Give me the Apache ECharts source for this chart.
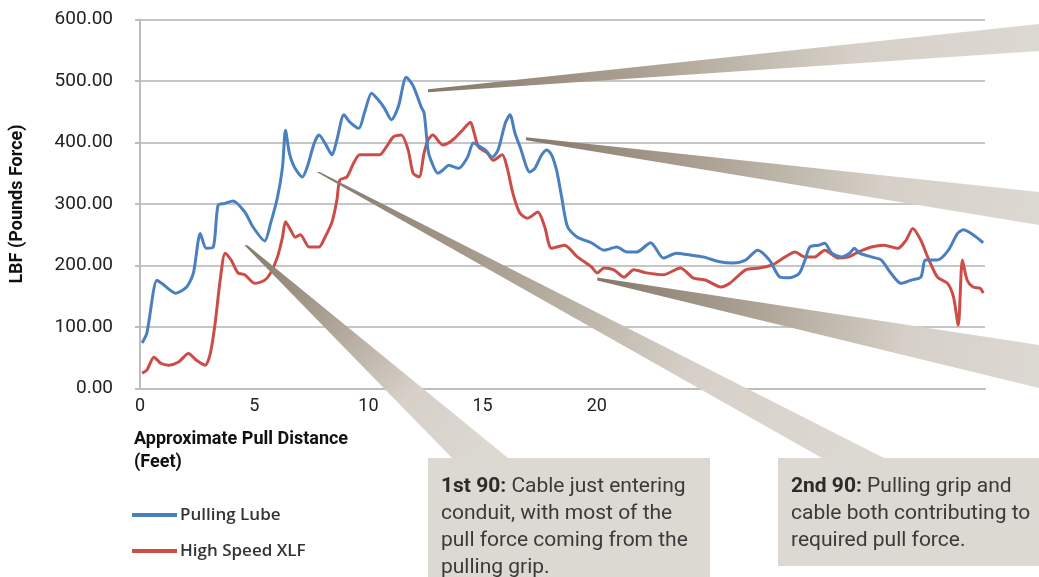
<!DOCTYPE html>
<html>
<head>
<meta charset="utf-8">
<script src="https://cdn.jsdelivr.net/npm/echarts@6/dist/echarts.min.js"></script>
<style>
  html, body { margin: 0; padding: 0; background: #fff; }
  #main { width: 1039px; height: 577px; }
</style>
</head>
<body>
<div id="main"></div>
<script>
// distance (feet) / force (lbf)
const lubeDist = [0.09, 0.30, 0.74, 0.95, 1.56, 2.04, 2.34, 2.64, 2.90, 3.21, 3.42, 3.73, 4.07, 4.59, 4.94,
  5.46, 5.72, 6.02, 6.24, 6.37, 6.54, 6.76, 7.11, 7.32, 7.63, 7.84, 8.10, 8.41, 8.62, 8.93, 9.19, 9.58, 9.84,
  10.14, 10.44, 10.70, 11.01, 11.31, 11.66, 11.96, 12.31, 12.44, 12.61, 12.74, 13.04, 13.26, 13.52, 13.95,
  14.34, 14.60, 14.90, 15.12, 15.42, 15.68, 15.99, 16.20, 16.42, 16.64, 17.07, 17.29, 17.59, 17.81, 18.02,
  18.24, 18.46, 18.72, 19.15, 19.76, 20.32, 20.88, 21.32, 21.75, 22.36, 22.92, 23.48, 24.09, 24.65, 25.39,
  25.95, 26.52, 27.04, 27.56, 28.03, 28.42, 28.86, 29.12, 29.33, 29.72, 29.98, 30.29, 30.72, 31.07, 31.28,
  31.50, 32.02, 32.45, 32.89, 33.32, 33.75, 34.19, 34.40, 34.92, 35.40, 35.79, 36.05, 36.48, 36.92];
const lubeForce = [74, 90, 176, 171, 155, 165, 188, 252, 228, 230, 298, 301, 305, 287, 263,
  240, 269, 311, 360, 420, 383, 360, 344, 360, 399, 412, 399, 380, 404, 445, 433, 423, 450,
  480, 469, 456, 437, 458, 506, 492, 458, 448, 388, 371, 350, 355, 363, 358,
  376, 399, 393, 388, 376, 388, 431, 445, 415, 393, 352, 358, 380, 388, 380,
  355, 312, 263, 246, 237, 225, 230, 222, 222, 237, 212, 220, 217, 214, 206,
  204, 209, 225, 209, 181, 180, 187, 209, 230, 233, 236, 220, 214, 220, 228,
  220, 214, 209, 187, 171, 176, 181, 209, 209, 225, 252, 258, 250, 237];

const xlfDist = [0.09, 0.30, 0.61, 0.91, 1.26, 1.69, 2.12, 2.47, 2.86, 3.08, 3.29, 3.51, 3.73, 3.99, 4.29,
  4.59, 5.03, 5.46, 5.72, 6.02, 6.24, 6.37, 6.59, 6.80, 7.02, 7.41, 7.84, 8.10, 8.41, 8.62, 8.75, 9.06, 9.36,
  9.62, 10.05, 10.49, 10.79, 11.09, 11.44, 11.74, 11.96, 12.22, 12.44, 12.61, 12.82, 13.26, 13.69, 14.12,
  14.47, 14.60, 14.82, 15.21, 15.47, 15.86, 16.07, 16.33, 16.64, 16.98, 17.42, 17.72, 18.02, 18.59, 19.15,
  19.76, 20.02, 20.32, 20.75, 21.19, 21.62, 22.18, 22.92, 23.66, 24.22, 24.78, 25.43, 25.82, 26.52, 27.12,
  27.69, 28.25, 28.68, 29.12, 29.55, 29.98, 30.59, 31.02, 31.46, 32.02, 32.58, 33.19, 33.54, 33.84, 34.19,
  34.49, 34.92, 35.36, 35.62, 35.83, 36.01, 36.22, 36.48, 36.79, 36.92];
const xlfForce = [25, 30, 51, 41, 38, 43, 57, 46, 38, 57, 106, 176, 220, 209, 188,
  185, 171, 176, 188, 214, 246, 271, 258, 246, 250, 230, 230, 246, 271, 306, 339, 344, 367,
  380, 380, 380, 393, 409, 412, 388, 350, 344, 383, 404, 412, 396, 404, 420,
  433, 420, 393, 383, 371, 380, 360, 317, 285, 277, 287, 263, 228, 233, 214,
  198, 188, 196, 193, 181, 193, 188, 185, 196, 180, 176, 165, 171, 193, 196,
  201, 214, 222, 214, 214, 225, 212, 214, 222, 230, 233, 228, 241, 260, 241,
  214, 181, 171, 149, 103, 209, 176, 165, 163, 155];

const seriesNames = ['Pulling Lube', 'High Speed XLF'];
const yTicks = [0, 100, 200, 300, 400, 500, 600];
const xLabelMax = 20;

// callouts: tip in data coords, wide end in page pixels
const callouts = [
  { tip: [4.64, 233], base: [[452, 458], [508, 458]] },
  { tip: [7.80, 352], base: [[822, 458], [884, 458]] },
  { tip: [12.61, 484], base: [[1039, 24], [1039, 51]] },
  { tip: [16.90, 406], base: [[1039, 192], [1039, 225]] },
  { tip: [20.02, 178], base: [[1039, 345], [1039, 388]] }
];

const toPairs = (xs, ys) => xs.map((x, i) => [x, ys[i]]);

const chart = echarts.init(document.getElementById('main'));
const axisGray = '#bdbdbd';
const labelFont = 'Roboto, "DejaVu Sans", sans-serif';

chart.setOption({
  animation: false,
  color: ['#4a7fc0', '#cc4d47'],
  grid: { left: 131, right: 54, top: 19.5, bottom: 188.5 },
  xAxis: {
    type: 'value', min: 0, max: 37, interval: 5,
    axisLine: { lineStyle: { color: axisGray, width: 2 } },
    axisTick: { show: false },
    splitLine: { show: false },
    axisLabel: {
      showMaxLabel: false,
      formatter: (v) => (v <= xLabelMax ? String(v) : ''),
      fontSize: 18, color: '#222', fontFamily: labelFont, margin: 9
    }
  },
  yAxis: {
    type: 'value', min: yTicks[0], max: yTicks[yTicks.length - 1], interval: 100,
    name: 'LBF (Pounds Force)', nameLocation: 'middle', nameGap: 114,
    nameTextStyle: { fontWeight: 'bold', fontSize: 18, fontFamily: labelFont, color: '#111' },
    axisLine: { show: true, lineStyle: { color: axisGray, width: 2 } },
    axisTick: { show: true, length: 5, lineStyle: { color: axisGray, width: 2 } },
    splitLine: { lineStyle: { color: '#c6c6c6', width: 2 } },
    axisLabel: {
      formatter: (v) => v.toFixed(2),
      fontSize: 19, color: '#222', fontFamily: labelFont, margin: 27
    }
  },
  legend: {
    orient: 'vertical', left: 132, top: 505, itemGap: 16, padding: 0,
    itemWidth: 45, itemHeight: 4, icon: 'rect',
    textStyle: { fontSize: 17, fontWeight: 600, fontFamily: '"Open Sans", sans-serif', color: '#333', lineHeight: 20, padding: [0, 0, 0, -2] },
    data: seriesNames
  },
  series: [
    {
      name: seriesNames[0], type: 'line', data: toPairs(lubeDist, lubeForce),
      showSymbol: false, smooth: 0.25, lineStyle: { width: 3 }, z: 3
    },
    {
      name: seriesNames[1], type: 'line', data: toPairs(xlfDist, xlfForce),
      showSymbol: false, smooth: 0.25, lineStyle: { width: 3 }, z: 2
    }
  ]
});

// callout wedges + boxes, tips placed through the chart's own scales
const boxFill = '#dcd8d2';
const textFont = 'Roboto, "DejaVu Sans", sans-serif';
const rich = {
  b: { fontWeight: 'bold', fontSize: 21, fontFamily: textFont, fill: '#2b2b2b', lineHeight: 27 },
  n: { fontSize: 21, fontFamily: textFont, fill: '#3a3a3a', lineHeight: 27 }
};

const wedges = callouts.map((c) => {
  const [tx, ty] = chart.convertToPixel({ gridIndex: 0 }, c.tip);
  const [b1, b2] = c.base;
  const horizontal = b1[0] === b2[0];
  const tipPts = horizontal ? [[tx, ty + 1.5], [tx, ty - 1.5]] : [[tx + 1.5, ty], [tx - 1.5, ty]];
  const bx = (b1[0] + b2[0]) / 2;
  const by = (b1[1] + b2[1]) / 2;
  return {
    type: 'polygon', z: 100, silent: true,
    shape: { points: [tipPts[1], b1, b2, tipPts[0]] },
    style: {
      fill: new echarts.graphic.LinearGradient(tx, ty, bx, by, [
        { offset: 0, color: '#85796a' },
        { offset: 0.35, color: '#aca293' },
        { offset: 0.7, color: '#d6d0c8' },
        { offset: 1, color: boxFill }
      ], true)
    }
  };
});

chart.setOption({
  graphic: wedges.concat([
    {
      type: 'text', left: 134, top: 428, z: 100,
      style: {
        text: 'Approximate Pull Distance\n(Feet)',
        font: 'bold 18px ' + labelFont, fill: '#111', lineHeight: 23
      }
    },
    { type: 'rect', z: 100, shape: { x: 428, y: 458, width: 282, height: 119 }, style: { fill: boxFill } },
    {
      type: 'text', left: 441, top: 476, z: 101,
      style: {
        text: '{b|1st 90:}{n| Cable just entering}\n{n|conduit, with most of the}\n{n|pull force coming from the}\n{n|pulling grip.}',
        rich: rich
      }
    },
    { type: 'rect', z: 100, shape: { x: 778, y: 458, width: 261, height: 108 }, style: { fill: boxFill } },
    {
      type: 'text', left: 791, top: 476, z: 101,
      style: {
        text: '{b|2nd 90:}{n| Pulling grip and}\n{n|cable both contributing to}\n{n|required pull force.}',
        rich: rich
      }
    }
  ])
});
</script>
</body>
</html>
